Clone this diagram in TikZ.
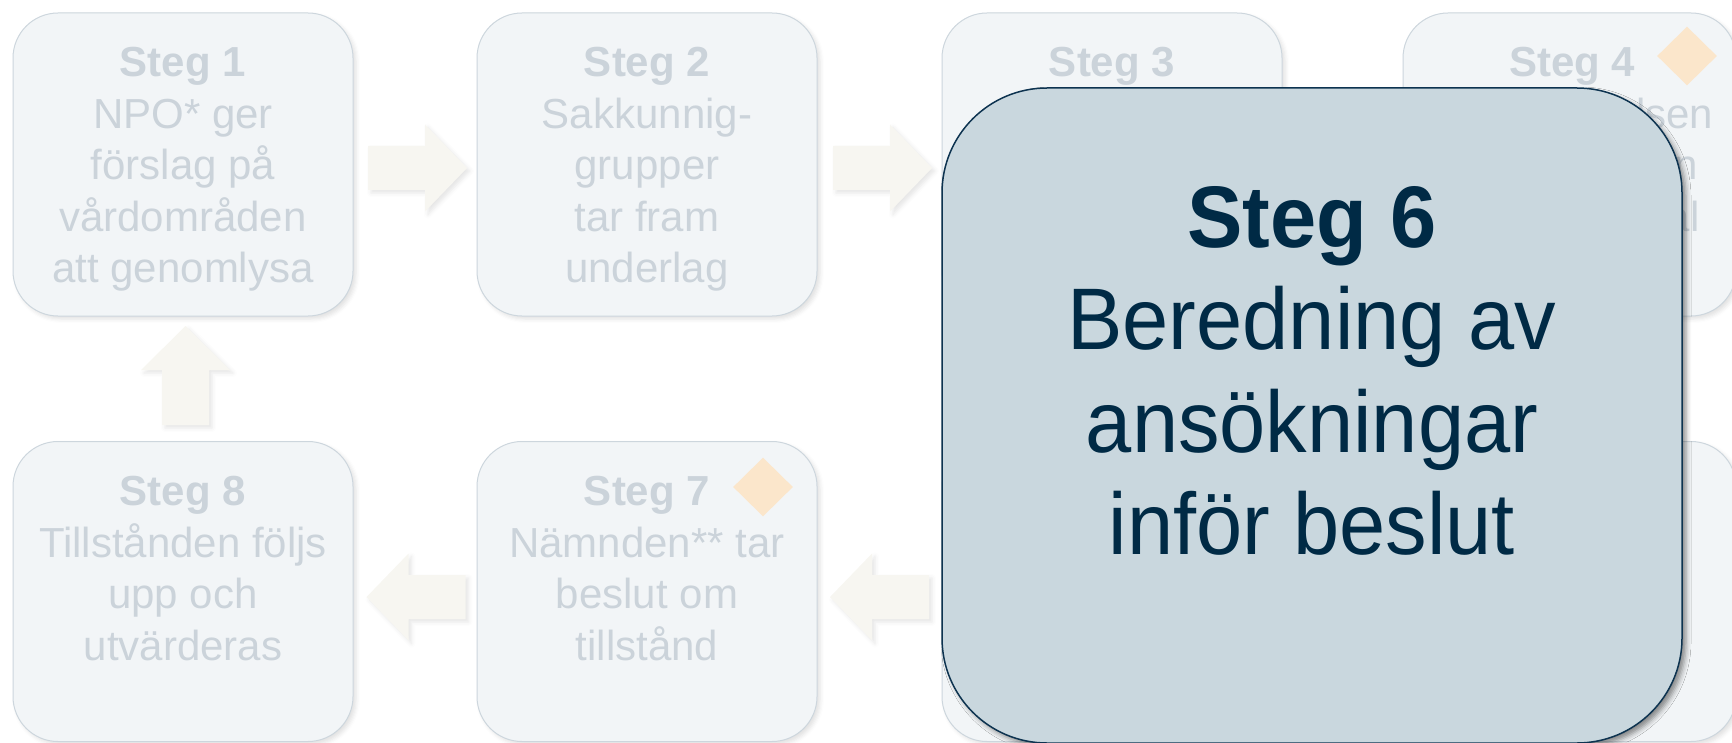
\documentclass[tikz,border=0pt]{standalone}
\usepackage{fontspec}
\setmainfont{Liberation Sans}
\newfontfamily\tallsans[FakeStretch=0.95]{Liberation Sans}
\usetikzlibrary{shapes.geometric,shadows.blur,calc}
\definecolor{boxfill}{HTML}{F2F5F7}
\definecolor{boxdraw}{HTML}{CDD6DD}
\definecolor{txtlight}{HTML}{CBD3DA}
\definecolor{arrfill}{HTML}{F7F6F1}
\definecolor{gemfill}{HTML}{FBE6CB}
\definecolor{bigfill}{HTML}{C9D7DE}
\definecolor{bigdraw}{HTML}{0D3350}
\definecolor{bigtext}{HTML}{002A45}
\begin{document}
\begin{tikzpicture}[x=0.5pt,y=0.5pt,
  stepbox/.style={draw=boxdraw, line width=0.5pt, fill=boxfill, rounded corners=22.5pt,
    minimum width=170pt, inner sep=0pt,
    blur shadow={shadow xshift=1.5pt, shadow yshift=-1.5pt, shadow blur radius=2pt, shadow opacity=12}},
  toprow/.style={stepbox, minimum height=151.5pt},
  botrow/.style={stepbox, minimum height=150pt},
  smalltxt/.style={text=txtlight, inner sep=0pt, font=\fontsize{21pt}{25.75pt}\selectfont},
  bigtxt/.style={text=bigtext, inner sep=0pt, font=\tallsans\fontsize{43.7pt}{51pt}\selectfont},
  blockarrow/.style={fill=arrfill,
    blur shadow={shadow xshift=1.5pt, shadow yshift=-1.5pt, shadow blur radius=2pt, shadow opacity=10}},
  gem/.style={diamond, fill=gemfill, draw=none, inner sep=0pt, minimum width=30pt, minimum height=29.5pt},
  bigbox/.style={draw=bigdraw, line width=0.75pt, fill=bigfill, rounded corners=52.5pt,
    minimum width=370pt, minimum height=327.5pt, inner sep=0pt,
    blur shadow={shadow xshift=2pt, shadow yshift=-2pt, shadow blur radius=2.5pt, shadow opacity=45}}
]
\useasboundingbox (0,0) rectangle (1732,-743);
\clip (0,0) rectangle (1732,-743);

% small step boxes
\node[toprow] (b1) at (183,-164.5) {};
\node[toprow] (b2) at (647,-164.5) {};
\node[toprow] (b3) at (1112,-164.5) {};
\node[toprow, minimum width=166.5pt] (b4) at (1569.5,-164.5) {};
\node[botrow] (b8) at (183,-591.5) {};
\node[botrow] (b7) at (647,-591.5) {};
\node[botrow] (b6) at (1112,-591.5) {};
\node[botrow, minimum width=166.5pt] (b5) at (1569.5,-591.5) {};

% texts of small boxes
\node[smalltxt, anchor=base] (t1) at (183,-77) {\begin{tabular}[t]{@{}c@{}}\textbf{Steg 1}\\NPO* ger\\förslag på\\vårdområden\\att genomlysa\end{tabular}};
\node[smalltxt, anchor=base] (t2) at (647,-77) {\begin{tabular}[t]{@{}c@{}}\textbf{Steg 2}\\Sakkunnig-\\grupper\\tar fram\\underlag\end{tabular}};
\node[smalltxt, anchor=base] (t3) at (1112,-77) {\textbf{Steg 3}};
\node[smalltxt, anchor=base] (t4) at (1572,-77) {\begin{tabular}[t]{@{}c@{}}\textbf{Steg 4}\\Socialstyrelsen\end{tabular}};
\node[smalltxt, anchor=base east] (t4c) at (1698,-180) {n};
\node[smalltxt, anchor=base east] (t4d) at (1700,-231.5) {al};
\node[smalltxt, anchor=base] (t8) at (183,-505.5) {\begin{tabular}[t]{@{}c@{}}\textbf{Steg 8}\\Tillstånden följs\\upp och\\utvärderas\end{tabular}};
\node[smalltxt, anchor=base] (t7) at (647,-505.5) {\begin{tabular}[t]{@{}c@{}}\textbf{Steg 7}\\Nämnden** tar\\beslut om\\tillstånd\end{tabular}};

% diamonds
\node[gem] (d4) at (1687,-56) {};
\node[gem] (d7) at (763,-487) {};

% block arrows between boxes
\coordinate (m12) at ($(b1.east)!0.5!(b2.west)$);
\coordinate (m23) at ($(b2.east)!0.5!(b3.west)$);
\coordinate (m67) at ($(b6.west)!0.5!(b7.east)$);
\coordinate (m78) at ($(b7.west)!0.5!(b8.east)$);
\coordinate (m81) at ($(b8.north)!0.5!(b1.south)$);
\fill[blockarrow, shift={($(m12)+(2.5,-3.5)$)}] (-49.5,-22) -- (7.5,-22) -- (7.5,-43.5) -- (49.5,0) -- (7.5,43.5) -- (7.5,22) -- (-49.5,22) -- cycle;
\fill[blockarrow, shift={($(m23)+(3,-3.5)$)}] (-49.5,-22) -- (7.5,-22) -- (7.5,-43.5) -- (49.5,0) -- (7.5,43.5) -- (7.5,22) -- (-49.5,22) -- cycle;
\fill[blockarrow, shift={($(m67)+(0,-5.5)$)}] (49.5,-22) -- (-7.5,-22) -- (-7.5,-43.5) -- (-49.5,0) -- (-7.5,43.5) -- (-7.5,22) -- (49.5,22) -- cycle;
\fill[blockarrow, shift={($(m78)+(1,-5.5)$)}] (49.5,-22) -- (-7.5,-22) -- (-7.5,-43.5) -- (-49.5,0) -- (-7.5,43.5) -- (-7.5,22) -- (49.5,22) -- cycle;
\fill[blockarrow, shift={($(m81)+(2.5,3.25)$)}] (-23.5,-49.5) -- (-23.5,5.5) -- (-44.5,5.5) -- (0,49.5) -- (44.5,5.5) -- (23.5,5.5) -- (23.5,-49.5) -- cycle;

% highlighted step 6
\node[bigbox] (big) at (1312,-415.5) {};
\node[bigtxt, anchor=base] (t6) at (1312,-248) {\begin{tabular}[t]{@{}c@{}}\textbf{Steg 6}\\Beredning av\\ansökningar\\inför beslut\end{tabular}};
\end{tikzpicture}
\end{document}
